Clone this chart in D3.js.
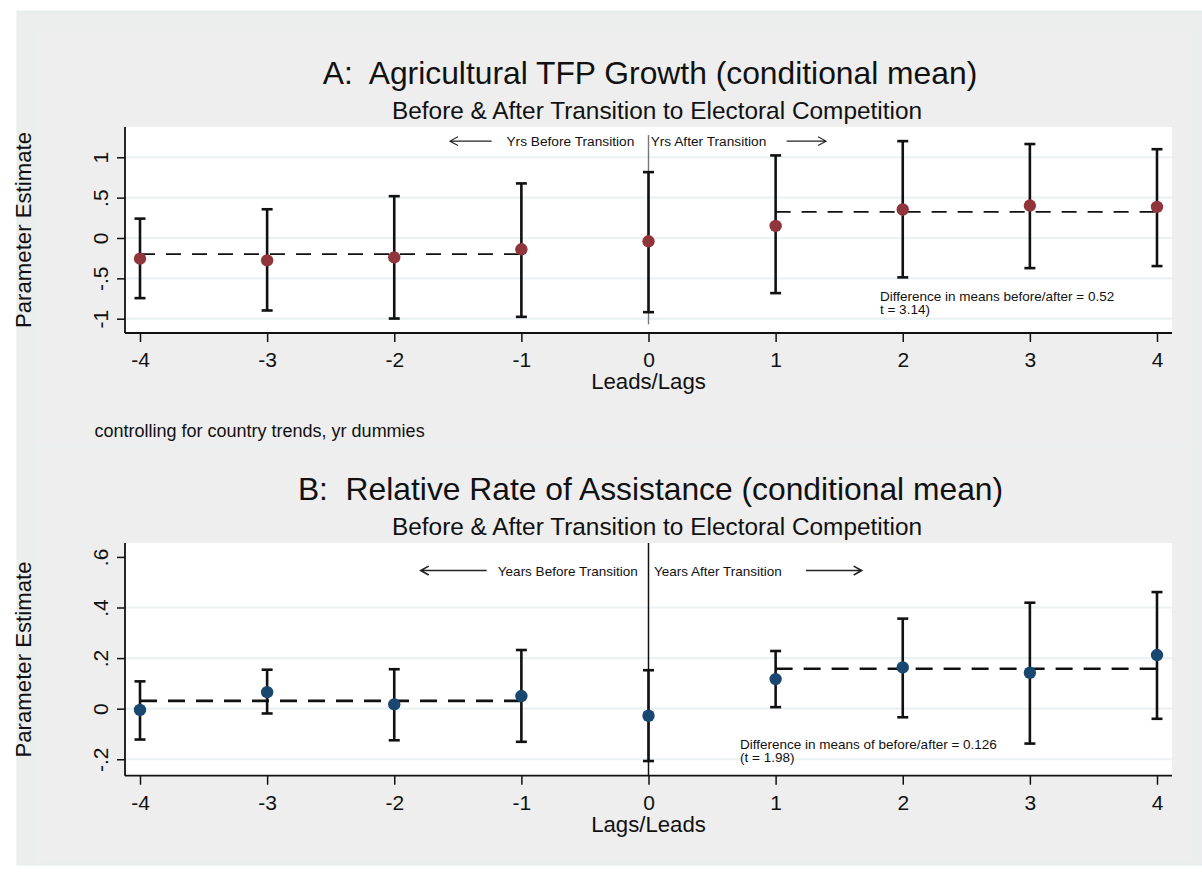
<!DOCTYPE html>
<html>
<head>
<meta charset="utf-8">
<script src="https://cdn.jsdelivr.net/npm/d3@7"></script>
<style>
  html, body { margin: 0; padding: 0; background: #ffffff; }
  svg { display: block; }
  text { font-family: "Liberation Sans", Arial, Helvetica, sans-serif; fill: #111; white-space: pre; }
</style>
</head>
<body>
<svg id="chart" width="1202" height="876"></svg>
<script>
// ---------------- DATA ----------------
const leads = [-4, -3, -2, -1, 0, 1, 2, 3, 4];
const leadTickLabels = ["-4", "-3", "-2", "-1", "0", "1", "2", "3", "4"];

// Panel A: Agricultural TFP growth
const tfpEst = [-0.256, -0.277, -0.240, -0.140, -0.041, 0.149, 0.353, 0.402, 0.385];
const tfpLo  = [-0.745, -0.898, -0.998, -0.977, -0.919, -0.683, -0.488, -0.373, -0.348];
const tfpHi  = [0.240, 0.356, 0.518, 0.676, 0.816, 1.023, 1.200, 1.164, 1.100];
const tfpMeanBefore = -0.200;
const tfpMeanAfter = 0.323;
const tfpYTicks = [-1, -0.5, 0, 0.5, 1];
const tfpYTickLabels = ["-1", "-.5", "0", ".5", "1"];
const tfpXLineRange = [-1.07, 1.275];

// Panel B: Relative rate of assistance
const rraEst = [-0.005, 0.065, 0.017, 0.050, -0.028, 0.117, 0.163, 0.142, 0.212];
const rraLo  = [-0.122, -0.019, -0.125, -0.131, -0.207, 0.006, -0.034, -0.138, -0.040];
const rraHi  = [0.108, 0.154, 0.156, 0.232, 0.152, 0.228, 0.356, 0.419, 0.461];
const rraMeanBefore = 0.031;
const rraMeanAfter = 0.158;
const rraYTicks = [-0.2, 0, 0.2, 0.4, 0.6];
const rraYTickLabels = ["-.2", "0", ".2", ".4", ".6"];

// ---------------- DRAW ----------------
const svg = d3.select("#chart");

// Outer graph background
svg.append("rect").attr("x", 17).attr("y", 11).attr("width", 1185).attr("height", 854)
  .attr("fill", "#eceeee").attr("stroke", "#e4ebec").attr("stroke-width", 1);
// Inner sub-graph regions
svg.append("rect").attr("x", 36).attr("y", 31).attr("width", 1157).attr("height", 414)
  .attr("fill", "#eeeeee").attr("stroke", "#e7eef0").attr("stroke-width", 1);
svg.append("rect").attr("x", 36).attr("y", 446).attr("width", 1157).attr("height", 417)
  .attr("fill", "#eeeeee").attr("stroke", "#e7eef0").attr("stroke-width", 1);

function arrowPath(x1, x2, y, head) {
  const dir = x2 > x1 ? 1 : -1;
  return `M${x1},${y}L${x2},${y}M${x2 - dir * head},${y - head * 0.55}L${x2},${y}L${x2 - dir * head},${y + head * 0.55}`;
}

function panel(cfg) {
  const x = d3.scaleLinear().domain([-4.118, 4.118]).range([cfg.left, cfg.right]);
  const y = d3.scaleLinear().domain(cfg.yDomain).range([cfg.bottom, cfg.top]);
  const g = svg.append("g");

  // plot region
  g.append("rect").attr("x", cfg.left).attr("y", cfg.top)
    .attr("width", cfg.right - cfg.left).attr("height", cfg.bottom - cfg.top).attr("fill", "#ffffff");

  // gridlines
  g.selectAll(".grid").data(cfg.gridTicks).enter().append("line")
    .attr("x1", cfg.left).attr("x2", cfg.right)
    .attr("y1", d => y(d)).attr("y2", d => y(d))
    .attr("stroke", "#eaf2f3").attr("stroke-width", 2.2);

  // y axis
  const yAxis = d3.axisLeft(y).tickValues(cfg.yTicks).tickSize(8)
    .tickFormat((d, i) => cfg.yTickLabels[i]);
  const ya = g.append("g").attr("transform", `translate(${cfg.left},0)`).call(yAxis);
  ya.select(".domain").attr("stroke", "#111").attr("stroke-width", 1.8)
    .attr("d", `M0,${cfg.top}V${cfg.bottom}`);
  ya.selectAll(".tick line").attr("stroke", "#111").attr("stroke-width", 1.5);
  ya.selectAll(".tick text")
    .attr("font-size", 21).attr("fill", "#111")
    .attr("x", null).attr("dy", null)
    .attr("text-anchor", "middle")
    .attr("transform", "translate(-17,0) rotate(-90)");

  // x axis
  const xAxis = d3.axisBottom(x).tickValues(leads).tickSize(9)
    .tickFormat((d, i) => leadTickLabels[i]);
  const xa = g.append("g").attr("transform", `translate(0,${cfg.bottom})`).call(xAxis);
  xa.select(".domain").attr("stroke", "#111").attr("stroke-width", 1.8)
    .attr("d", `M${cfg.left},0H${cfg.right}`);
  xa.selectAll(".tick line").attr("stroke", "#111").attr("stroke-width", 1.5);
  xa.selectAll(".tick text").attr("font-size", 21).attr("fill", "#111")
    .attr("y", 34).attr("dy", null);

  // vertical reference line at 0
  g.append("line")
    .attr("x1", x(0)).attr("x2", x(0))
    .attr("y1", y(cfg.xLineRange[0])).attr("y2", y(cfg.xLineRange[1]))
    .attr("stroke", cfg.xLineColor).attr("stroke-width", cfg.xLineWidth);

  // dashed mean lines
  g.append("line").attr("x1", x(-4)).attr("x2", x(-1))
    .attr("y1", y(cfg.meanBefore)).attr("y2", y(cfg.meanBefore))
    .attr("stroke", "#111").attr("stroke-width", cfg.dashWidth).attr("stroke-dasharray", cfg.dash);
  g.append("line").attr("x1", x(1)).attr("x2", x(4))
    .attr("y1", y(cfg.meanAfter)).attr("y2", y(cfg.meanAfter))
    .attr("stroke", "#111").attr("stroke-width", cfg.dashWidth).attr("stroke-dasharray", cfg.dash);

  // error bars
  const rows = leads.map((d, i) => ({ x: d, est: cfg.est[i], lo: cfg.lo[i], hi: cfg.hi[i] }));
  const eb = g.selectAll(".eb").data(rows).enter().append("g");
  eb.append("line").attr("x1", d => x(d.x)).attr("x2", d => x(d.x))
    .attr("y1", d => y(d.lo)).attr("y2", d => y(d.hi))
    .attr("stroke", "#111").attr("stroke-width", 2.6);
  eb.append("line").attr("x1", d => x(d.x) - 5.5).attr("x2", d => x(d.x) + 5.5)
    .attr("y1", d => y(d.lo)).attr("y2", d => y(d.lo))
    .attr("stroke", "#111").attr("stroke-width", 2.6);
  eb.append("line").attr("x1", d => x(d.x) - 5.5).attr("x2", d => x(d.x) + 5.5)
    .attr("y1", d => y(d.hi)).attr("y2", d => y(d.hi))
    .attr("stroke", "#111").attr("stroke-width", 2.6);
  eb.append("circle").attr("cx", d => x(d.x)).attr("cy", d => y(d.est)).attr("r", 6.2)
    .attr("fill", cfg.color);

  // annotations
  const ay = y(cfg.annY);
  g.append("path").attr("d", arrowPath(x(cfg.arrowL[1]), x(cfg.arrowL[0]), ay, 8))
    .attr("fill", "none").attr("stroke", "#222").attr("stroke-width", cfg.arrowWidth);
  g.append("path").attr("d", arrowPath(x(cfg.arrowR[0]), x(cfg.arrowR[1]), ay, 8))
    .attr("fill", "none").attr("stroke", "#222").attr("stroke-width", cfg.arrowWidth);
  g.append("text").attr("x", x(cfg.beforeEnd)).attr("y", ay + 5).attr("text-anchor", "end")
    .attr("font-size", cfg.annSize).text(cfg.beforeText);
  g.append("text").attr("x", x(cfg.afterStart)).attr("y", ay + 5).attr("text-anchor", "start")
    .attr("font-size", cfg.annSize).text(cfg.afterText);

  g.append("text").attr("x", x(cfg.diffX)).attr("y", y(cfg.diffY[0]))
    .attr("font-size", 13.5).text(cfg.diffText[0]);
  g.append("text").attr("x", x(cfg.diffX)).attr("y", y(cfg.diffY[1]))
    .attr("font-size", 13.5).text(cfg.diffText[1]);

  // titles
  svg.append("text").attr("x", cfg.titleX).attr("y", cfg.titleY).attr("text-anchor", "middle")
    .attr("font-size", 31.8).text(cfg.title);
  svg.append("text").attr("x", cfg.subX).attr("y", cfg.subY).attr("text-anchor", "middle")
    .attr("font-size", 24.4).text(cfg.subtitle);

  // axis titles
  svg.append("text").attr("transform", `translate(30.5,${cfg.yTitleCY}) rotate(-90)`)
    .attr("text-anchor", "middle").attr("font-size", 22.2).text("Parameter Estimate");
  svg.append("text").attr("x", x(0)).attr("y", cfg.xTitleY).attr("text-anchor", "middle")
    .attr("font-size", 22.2).text(cfg.xTitle);
}

panel({
  left: 125, right: 1172, top: 127, bottom: 333,
  yDomain: [-1.177, 1.375],
  yTicks: tfpYTicks, yTickLabels: tfpYTickLabels, gridTicks: tfpYTicks,
  est: tfpEst, lo: tfpLo, hi: tfpHi,
  meanBefore: tfpMeanBefore, meanAfter: tfpMeanAfter,
  dash: "15,11", dashWidth: 1.6,
  color: "#90353b",
  xLineRange: tfpXLineRange, xLineColor: "#777", xLineWidth: 1.4,
  annY: 1.2, arrowL: [-1.562, -1.234], arrowR: [1.087, 1.397], arrowWidth: 1.1,
  beforeEnd: -0.112, afterStart: 0.017, annSize: 13.7,
  beforeText: "Yrs Before Transition", afterText: "Yrs After Transition",
  diffX: 1.821, diffY: [-0.775, -0.936],
  diffText: ["Difference in means before/after = 0.52", "t = 3.14)"],
  title: "A:  Agricultural TFP Growth (conditional mean)", titleX: 650, titleY: 83.5,
  subtitle: "Before & After Transition to Electoral Competition", subX: 657, subY: 118.5,
  yTitleCY: 230, xTitle: "Leads/Lags", xTitleY: 389
});

svg.append("text").attr("x", 94.5).attr("y", 437).attr("font-size", 18)
  .text("controlling for country trends, yr dummies");

panel({
  left: 125, right: 1172, top: 543, bottom: 775.7,
  yDomain: [-0.265, 0.655],
  yTicks: rraYTicks, yTickLabels: rraYTickLabels, gridTicks: [-0.2, 0, 0.2, 0.4],
  est: rraEst, lo: rraLo, hi: rraHi,
  meanBefore: rraMeanBefore, meanAfter: rraMeanAfter,
  dash: "17,11", dashWidth: 2.6,
  color: "#1a476f",
  xLineRange: [-0.265, 0.655], xLineColor: "#111", xLineWidth: 1.5,
  annY: 0.546, arrowL: [-1.792, -1.273], arrowR: [1.239, 1.677], arrowWidth: 1.6,
  beforeEnd: -0.085, afterStart: 0.043, annSize: 13.5,
  beforeText: "Years Before Transition", afterText: "Years After Transition",
  diffX: 0.72, diffY: [-0.16, -0.212],
  diffText: ["Difference in means of before/after = 0.126", "(t = 1.98)"],
  title: "B:  Relative Rate of Assistance (conditional mean)", titleX: 650.5, titleY: 500,
  subtitle: "Before & After Transition to Electoral Competition", subX: 657, subY: 534.5,
  yTitleCY: 659.5, xTitle: "Lags/Leads", xTitleY: 832
});
</script>
</body>
</html>
